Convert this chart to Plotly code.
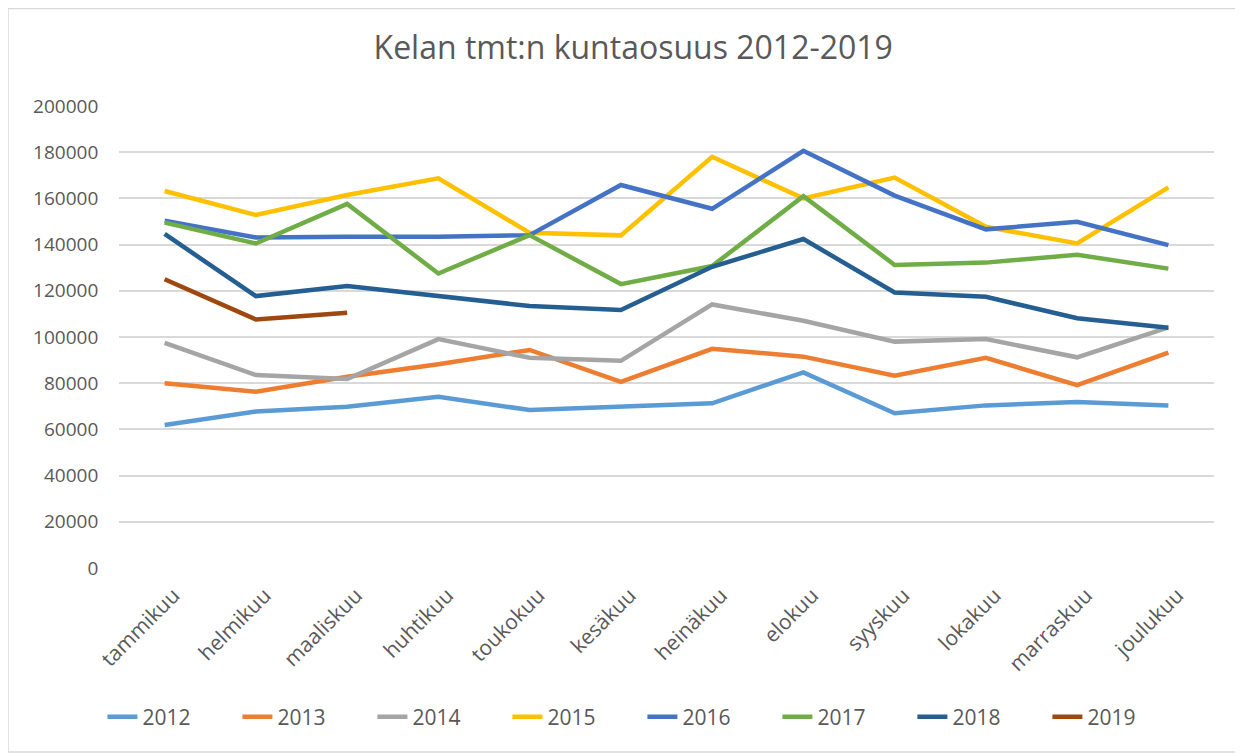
import plotly.graph_objects as go

months = ["tammikuu", "helmikuu", "maaliskuu", "huhtikuu", "toukokuu", "kesäkuu",
          "heinäkuu", "elokuu", "syyskuu", "lokakuu", "marraskuu", "joulukuu"]

y2012 = [61900, 67700, 69800, 74100, 68400, 69800, 71300, 84700, 67000, 70400, 71900, 70300]
y2013 = [80000, 76300, 82800, 88200, 94400, 80600, 94900, 91500, 83200, 91000, 79200, 93200]
y2014 = [97500, 83500, 81800, 99100, 91000, 89700, 114100, 107000, 98000, 99100, 91200, 104200]
y2015 = [163200, 152800, 161500, 168700, 145100, 144000, 178000, 160000, 169000, 147700, 140500, 164800]
y2016 = [150300, 143100, 143400, 143400, 144100, 165800, 155500, 180600, 161200, 146600, 149900, 139800]
y2017 = [149500, 140500, 157600, 127500, 144100, 122900, 130700, 161000, 131200, 132200, 135600, 129600]
y2018 = [144600, 117700, 122100, 117900, 113400, 111700, 130400, 142400, 119300, 117400, 108100, 104000]
y2019 = [125000, 107600, 110500]

series = [
    ("2012", y2012, "#5B9BD5"),
    ("2013", y2013, "#ED7D31"),
    ("2014", y2014, "#A5A5A5"),
    ("2015", y2015, "#FFC000"),
    ("2016", y2016, "#4472C4"),
    ("2017", y2017, "#70AD47"),
    ("2018", y2018, "#255E91"),
    ("2019", y2019, "#9E480E"),
]

fig = go.Figure()
for name, vals, color in series:
    fig.add_trace(go.Scatter(
        x=months[:len(vals)], y=vals, name=name, mode="lines",
        line=dict(color=color, width=4.5),
    ))

W, H = 1243, 753
ML, MR, MT, MB = 111, 37, 98, 193
PW, PH = W - ML - MR, H - MT - MB

fontfam = "Open Sans, Lato, sans-serif"
fig.update_layout(
    width=W, height=H,
    margin=dict(l=ML, r=MR, t=MT, b=MB),
    paper_bgcolor="white", plot_bgcolor="white",
    font=dict(family=fontfam, color="#595959", size=19),
    title=dict(text="Kelan tmt:n kuntaosuus 2012-2019", x=0.503, xanchor="center",
               y=1 - 40 / H, yanchor="middle",
               font=dict(size=32, color="#595959", family=fontfam)),
    xaxis=dict(type="category", categoryorder="array", categoryarray=months,
               range=[-0.5, 11.5], showgrid=False, zeroline=False, showline=False,
               ticks="", tickangle=-45, automargin=False,
               ticklabelstandoff=10, ticklabelshift=9,
               tickfont=dict(size=21, color="#595959")),
    yaxis=dict(range=[0, 200000], dtick=20000, showgrid=True, gridcolor="#D9D9D9",
               gridwidth=1.5, zeroline=False, showline=False, ticks="",
               tickformat="d", ticksuffix="    ", automargin=False,
               tickfont=dict(size=19, color="#595959")),
    legend=dict(orientation="h", x=0.478, xanchor="center", y=-(717 - 568) / PH,
                yanchor="middle", font=dict(size=21, color="#595959"),
                entrywidth=90, entrywidthmode="pixels", traceorder="normal"),
    showlegend=True,
)
fig.add_shape(type="rect", xref="paper", yref="paper",
              x0=(0 - ML) / PW, x1=(1233 - ML) / PW,
              y0=-(744 - MT - PH) / PH, y1=(MT + PH - 0.5) / PH,
              line=dict(color="#D9D9D9", width=1.5), fillcolor="rgba(0,0,0,0)",
              layer="below")
fig.write_html("out.html")
